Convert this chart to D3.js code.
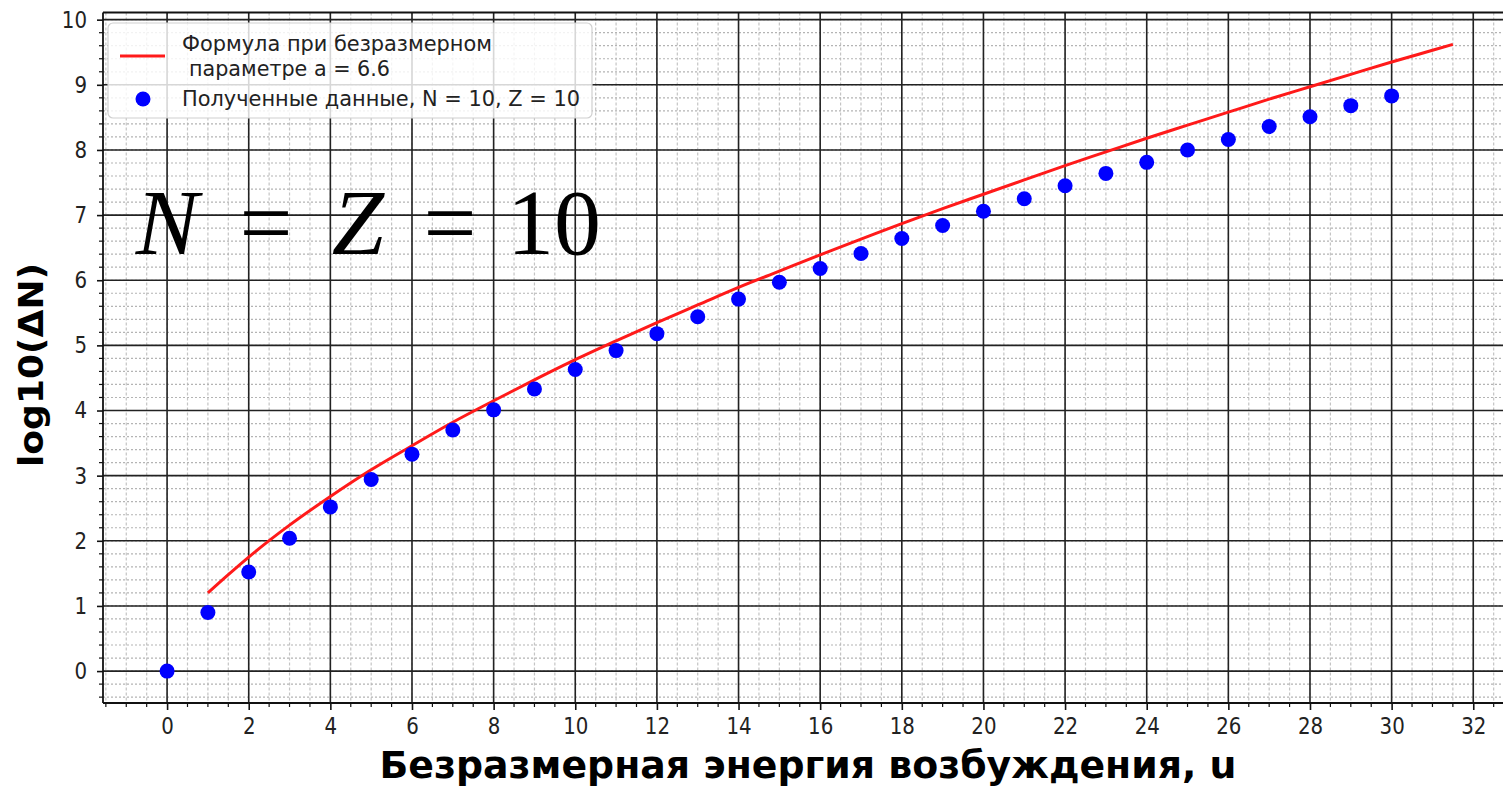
<!DOCTYPE html>
<html>
<head>
<meta charset="utf-8">
<script src="https://cdn.jsdelivr.net/npm/d3@7"></script>
<style>
  html, body { margin: 0; padding: 0; background: #fff; }
  svg { display: block; }
  text { font-family: "DejaVu Sans", sans-serif; fill: #111; }
  text.serif { font-family: "Liberation Serif", "DejaVu Serif", serif; }
</style>
</head>
<body>
<svg id="chart" width="1503" height="787"></svg>
<script>
// Measured level counts (log10 ΔN) versus dimensionless excitation energy u
const uData = [0, 1, 2, 3, 4, 5, 6, 7, 8, 9, 10, 11, 12, 13, 14, 15, 16, 17, 18, 19, 20,
               21, 22, 23, 24, 25, 26, 27, 28, 29, 30];
const logData = [0.00, 0.90, 1.52, 2.04, 2.52, 2.94, 3.33, 3.70, 4.01, 4.33, 4.63, 4.92, 5.18,
                 5.44, 5.71, 5.97, 6.18, 6.41, 6.64, 6.84, 7.06, 7.25, 7.45, 7.64, 7.81,
                 8.00, 8.16, 8.36, 8.51, 8.68, 8.83];

// Formula curve (a = 6.6)
const uFormula = [1, 1.5, 2, 3, 4, 5, 6, 7, 8, 9, 10, 11, 12, 13, 14, 15, 16, 17, 18, 19, 20,
                  21, 22, 23, 24, 25, 26, 27, 28, 29, 30, 31, 31.5];
const logFormula = [1.20, 1.48, 1.75, 2.24, 2.68, 3.09, 3.46, 3.82, 4.15, 4.47, 4.78, 5.07, 5.35,
                    5.62, 5.89, 6.14, 6.39, 6.63, 6.87, 7.10, 7.32, 7.54, 7.76, 7.97, 8.18,
                    8.38, 8.58, 8.78, 8.97, 9.16, 9.35, 9.53, 9.62];

const xTicks = [0, 2, 4, 6, 8, 10, 12, 14, 16, 18, 20, 22, 24, 26, 28, 30, 32];
const yTicks = [0, 1, 2, 3, 4, 5, 6, 7, 8, 9, 10];

const legendLabels = ["Формула при безразмерном", "параметре a = 6.6", "Полученные данные, N = 10, Z = 10"];
const xTitle = "Безразмерная энергия возбуждения, u";
const yTitle = "log10(ΔN)";

const svg = d3.select("#chart");
const plot = { left: 103, right: 1510, top: 12.5, bottom: 703 };
const x = d3.scaleLinear().domain([-1.57, 32.9]).range([plot.left, plot.right]);
const y = d3.scaleLinear().domain([-0.49, 10.11]).range([plot.bottom, plot.top]);

const xMinor = d3.range(-1.5, 33, 0.5).filter(v => x(v) <= plot.right);
const yMinor = d3.range(-0.4, 10.11, 0.2).map(v => +v.toFixed(2));

svg.append("defs").append("clipPath").attr("id", "clip")
  .append("rect").attr("x", plot.left).attr("y", plot.top)
  .attr("width", plot.right - plot.left).attr("height", plot.bottom - plot.top);

const grid = svg.append("g").attr("clip-path", "url(#clip)");
// minor grid
grid.selectAll(".vmin").data(xMinor).join("line")
  .attr("x1", d => x(d)).attr("x2", d => x(d)).attr("y1", plot.top).attr("y2", plot.bottom)
  .attr("stroke", "#c4c4c4").attr("stroke-width", 1.2).attr("stroke-dasharray", "3,2");
grid.selectAll(".hmin").data(yMinor).join("line")
  .attr("y1", d => y(d)).attr("y2", d => y(d)).attr("x1", plot.left).attr("x2", plot.right)
  .attr("stroke", "#b4b4b4").attr("stroke-width", 1.2).attr("stroke-dasharray", "2,2");
// major grid
grid.selectAll(".vmaj").data(xTicks).join("line")
  .attr("x1", d => x(d)).attr("x2", d => x(d)).attr("y1", plot.top).attr("y2", plot.bottom)
  .attr("stroke", "#222").attr("stroke-width", 1.6);
grid.selectAll(".hmaj").data(yTicks).join("line")
  .attr("y1", d => y(d)).attr("y2", d => y(d)).attr("x1", plot.left).attr("x2", plot.right)
  .attr("stroke", "#222").attr("stroke-width", 1.6);

// axes
const squeeze = 0.86;
const xAxis = svg.append("g").attr("transform", `translate(0,${plot.bottom})`)
  .call(d3.axisBottom(x).tickValues(xTicks).tickSize(7).tickPadding(8).tickFormat(d3.format("d")));
xAxis.select(".domain").remove();
xAxis.selectAll(".tick line").attr("stroke", "#111").attr("stroke-width", 1.6);
xAxis.selectAll(".tick text").attr("font-size", 23).style("fill", "#222")
  .attr("transform", `scale(${squeeze},1)`);
svg.append("g").selectAll("line").data(xMinor.filter(v => !xTicks.includes(v))).join("line")
  .attr("x1", d => x(d)).attr("x2", d => x(d)).attr("y1", plot.bottom).attr("y2", plot.bottom + 4)
  .attr("stroke", "#111").attr("stroke-width", 1.2);

const yAxis = svg.append("g").attr("transform", `translate(${plot.left},0)`)
  .call(d3.axisLeft(y).tickValues(yTicks).tickSize(6).tickPadding(10).tickFormat(d3.format("d")));
yAxis.select(".domain").remove();
yAxis.selectAll(".tick line").attr("stroke", "#111").attr("stroke-width", 1.6);
yAxis.selectAll(".tick text").attr("font-size", 23).style("fill", "#222")
  .attr("x", -16 / squeeze).attr("transform", `scale(${squeeze},1)`);
svg.append("g").selectAll("line").data(yMinor.filter(v => !yTicks.includes(v))).join("line")
  .attr("y1", d => y(d)).attr("y2", d => y(d)).attr("x1", plot.left - 4).attr("x2", plot.left)
  .attr("stroke", "#111").attr("stroke-width", 1.2);

// spines
svg.append("line").attr("x1", plot.left).attr("x2", plot.right).attr("y1", plot.bottom).attr("y2", plot.bottom)
  .attr("stroke", "#111").attr("stroke-width", 1.8);
svg.append("line").attr("x1", plot.left).attr("x2", plot.right).attr("y1", plot.top).attr("y2", plot.top)
  .attr("stroke", "#111").attr("stroke-width", 1.8);
svg.append("line").attr("x1", plot.left).attr("x2", plot.left).attr("y1", plot.top).attr("y2", plot.bottom)
  .attr("stroke", "#111").attr("stroke-width", 1.8);

// big annotation N = Z = 10
const ann = svg.append("g");
const annParts = [
  { t: "N", cx: 167, it: true, w: 74 },
  { t: "=", cx: 266, it: false, w: 58 },
  { t: "Z", cx: 358, it: true, w: 58 },
  { t: "=", cx: 450, it: false, w: 58 },
  { t: "10", cx: 554, it: false, w: 80 }
];
annParts.forEach(p => {
  ann.append("text").attr("class", "serif").attr("x", p.cx).attr("y", 254).attr("text-anchor", "middle")
    .attr("font-size", 94).style("font-style", p.it ? "italic" : "normal")
    .style("fill", "#000").text(p.t);
});

// formula curve and data points
const body = svg.append("g").attr("clip-path", "url(#clip)");
const line = d3.line().x(d => x(d[0])).y(d => y(d[1])).curve(d3.curveMonotoneX);
body.append("path").datum(uFormula.map((u, i) => [u, logFormula[i]]))
  .attr("d", line).attr("fill", "none").attr("stroke", "#ff1a1a").attr("stroke-width", 3);
body.selectAll("circle").data(uData.map((u, i) => [u, logData[i]])).join("circle")
  .attr("cx", d => x(d[0])).attr("cy", d => y(d[1])).attr("r", 7.5).attr("fill", "#0000ff");

// legend
const lg = svg.append("g");
lg.append("rect").attr("x", 108).attr("y", 23).attr("width", 484).attr("height", 95).attr("rx", 5)
  .attr("fill", "#fff").attr("fill-opacity", 0.82).attr("stroke", "#d0d0d0").attr("stroke-width", 1.2);
lg.append("line").attr("x1", 120).attr("x2", 165).attr("y1", 56).attr("y2", 56)
  .attr("stroke", "#ff1a1a").attr("stroke-width", 3);
lg.append("circle").attr("cx", 143).attr("cy", 99).attr("r", 7.5).attr("fill", "#0000ff");
const legendPos = [
  { x: 182, y: 51, w: 310 },
  { x: 189, y: 76, w: 201 },
  { x: 182, y: 106, w: 398 }
];
legendLabels.forEach((t, i) => {
  lg.append("text").attr("x", legendPos[i].x).attr("y", legendPos[i].y)
    .attr("font-size", 21).attr("textLength", legendPos[i].w).attr("lengthAdjust", "spacingAndGlyphs")
    .style("fill", "#222").text(t);
});

// axis titles
svg.append("text").attr("x", 808).attr("y", 778).attr("text-anchor", "middle")
  .attr("font-size", 38).attr("font-weight", "bold").attr("textLength", 857).attr("lengthAdjust", "spacingAndGlyphs")
  .style("fill", "#000").text(xTitle);
svg.append("text").attr("transform", "translate(43,365) rotate(-90)").attr("text-anchor", "middle")
  .attr("font-size", 34).attr("font-weight", "bold").attr("textLength", 204).attr("lengthAdjust", "spacingAndGlyphs")
  .style("fill", "#000").text(yTitle);
</script>
</body>
</html>
